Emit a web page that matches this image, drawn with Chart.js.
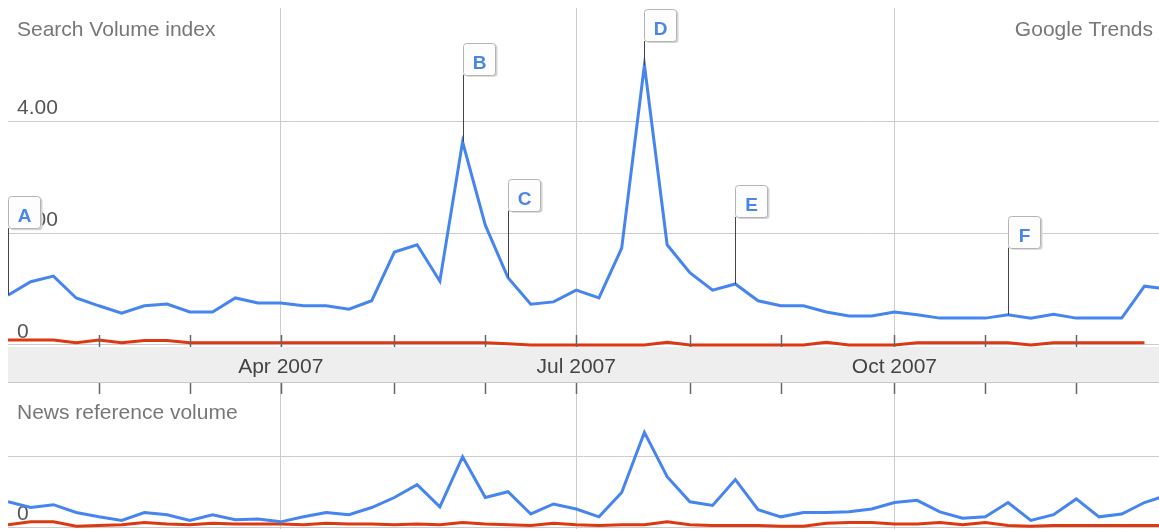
<!DOCTYPE html>
<html>
<head>
<meta charset="utf-8">
<script src="https://cdn.jsdelivr.net/npm/chart.js@4.4.1/dist/chart.umd.min.js"></script>
<style>
	html, body { margin: 0; padding: 0; background: #fff; overflow: hidden; }
	#wrap { position: relative; width: 1159px; height: 529px; }
	#top { position: absolute; left: 0; top: 0; width: 1159px; height: 383px; }
	#bottom { position: absolute; left: 0; top: 383px; width: 1159px; height: 146px; }
</style>
</head>
<body>
<div id="wrap">
	<div id="top"><canvas id="searchChart"></canvas></div>
	<div id="bottom"><canvas id="newsChart"></canvas></div>
</div>
<script>
// weekly points, 2007
const weeks = [
	"Jan 7 2007", "Jan 14 2007", "Jan 21 2007", "Jan 28 2007",
	"Feb 4 2007", "Feb 11 2007", "Feb 18 2007", "Feb 25 2007",
	"Mar 4 2007", "Mar 11 2007", "Mar 18 2007", "Mar 25 2007",
	"Apr 1 2007", "Apr 8 2007", "Apr 15 2007", "Apr 22 2007", "Apr 29 2007",
	"May 6 2007", "May 13 2007", "May 20 2007", "May 27 2007",
	"Jun 3 2007", "Jun 10 2007", "Jun 17 2007", "Jun 24 2007",
	"Jul 1 2007", "Jul 8 2007", "Jul 15 2007", "Jul 22 2007", "Jul 29 2007",
	"Aug 5 2007", "Aug 12 2007", "Aug 19 2007", "Aug 26 2007",
	"Sep 2 2007", "Sep 9 2007", "Sep 16 2007", "Sep 23 2007", "Sep 30 2007",
	"Oct 7 2007", "Oct 14 2007", "Oct 21 2007", "Oct 28 2007",
	"Nov 4 2007", "Nov 11 2007", "Nov 18 2007", "Nov 25 2007",
	"Dec 2 2007", "Dec 9 2007", "Dec 16 2007", "Dec 23 2007", "Dec 30 2007"
];

const searchBlue = [
	0.89, 1.13, 1.23, 0.84, 0.70, 0.57, 0.70, 0.73, 0.59, 0.59,
	0.84, 0.75, 0.75, 0.70, 0.70, 0.64, 0.79, 1.66, 1.79, 1.14,
	3.63, 2.14, 1.20, 0.73, 0.77, 0.98, 0.84, 1.73, 5.00, 1.79,
	1.29, 0.98, 1.09, 0.79, 0.70, 0.70, 0.59, 0.52, 0.52, 0.59,
	0.54, 0.48, 0.48, 0.48, 0.54, 0.48, 0.55, 0.48, 0.48, 0.48,
	1.05, 1.00
];
const searchRed = [
	0.09, 0.09, 0.09, 0.04, 0.09, 0.04, 0.08, 0.08, 0.04, 0.04,
	0.04, 0.04, 0.04, 0.04, 0.04, 0.04, 0.04, 0.04, 0.04, 0.04,
	0.04, 0.04, 0.02, 0, 0, 0, 0, 0, 0, 0.05,
	0, 0, 0, 0, 0, 0, 0.05, 0, 0, 0,
	0.04, 0.04, 0.04, 0.04, 0.04, 0, 0.04, 0.04, 0.04, 0.04,
	0.04
];
const newsBlue = [
	0.36, 0.28, 0.32, 0.21, 0.15, 0.10, 0.21, 0.18, 0.10, 0.18,
	0.11, 0.12, 0.08, 0.15, 0.21, 0.18, 0.28, 0.42, 0.60, 0.29,
	0.99, 0.42, 0.50, 0.19, 0.33, 0.26, 0.15, 0.49, 1.33, 0.71,
	0.36, 0.31, 0.67, 0.25, 0.15, 0.21, 0.21, 0.22, 0.26, 0.35,
	0.38, 0.22, 0.13, 0.15, 0.35, 0.10, 0.18, 0.40, 0.15, 0.19,
	0.35, 0.45
];
const newsRed = [
	0.04, 0.08, 0.08, 0.02, 0.03, 0.04, 0.07, 0.05, 0.04, 0.06,
	0.05, 0.05, 0.05, 0.04, 0.06, 0.05, 0.05, 0.04, 0.05, 0.04,
	0.07, 0.05, 0.04, 0.03, 0.06, 0.04, 0.03, 0.04, 0.04, 0.08,
	0.04, 0.03, 0.03, 0.03, 0.02, 0.02, 0.06, 0.07, 0.07, 0.05,
	0.05, 0.07, 0.04, 0.07, 0.03, 0.02, 0.03, 0.03, 0.03, 0.03,
	0.03, 0.03
];

const searchTicks = [0, 2, 4];
const newsTicks = [0, 1];
const quarterLabels = ["Apr 2007", "Jul 2007", "Oct 2007"];
const flagLetters = ["A", "B", "C", "D", "E", "F"];
const flagWeeks = [0, 20, 22, 28, 32, 44];

const BLUE = "#4684ee";
const RED = "#dc3912";
const GRID = "#cccccc";
const FONT = "'Liberation Sans', Arial, sans-serif";

Chart.defaults.font.family = FONT;

// first week of each month gets a tick
const monthStarts = weeks
	.map((w, i) => (i > 0 && w.split(" ")[0] !== weeks[i - 1].split(" ")[0] ? i : -1))
	.filter((i) => i >= 0);

function quarterLabel(i) {
	const w = weeks[i];
	if (!w) return "";
	const p = w.split(" ");
	const name = p[0] + " " + p[2];
	return quarterLabels.includes(name) ? name : "";
}

const toPoints = (arr) => arr.map((v, i) => ({ x: i, y: v }));

const xMax = 50.64;

function noPadding(s) {
	s.paddingTop = 0;
	s.paddingBottom = 0;
	s.paddingLeft = 0;
	s.paddingRight = 0;
}

function xScale(showLabels) {
	return {
		type: "linear",
		min: 0,
		max: xMax,
		afterBuildTicks: (s) => {
			s.ticks = monthStarts.map((v) => ({ value: v }));
		},
		afterFit: (s) => {
			s.height = showLabels ? 36 : 0;
			noPadding(s);
		},
		border: { display: false },
		grid: {
			drawTicks: false,
			lineWidth: 1,
			color: (ctx) => (ctx.tick && quarterLabel(ctx.tick.value) ? GRID : "rgba(0,0,0,0)"),
		},
		ticks: {
			display: showLabels,
			autoSkip: false,
			maxRotation: 0,
			padding: 8,
			color: "#444",
			font: { size: 21 },
			callback: (v) => quarterLabel(v),
		},
	};
}

function yScale(min, max, tickList, fmt) {
	return {
		min: min,
		max: max,
		afterBuildTicks: (s) => {
			s.ticks = tickList.map((v) => ({ value: v }));
		},
		afterFit: (s) => {
			s.width = 0;
			noPadding(s);
		},
		border: { display: false },
		grid: { drawTicks: false, color: GRID, lineWidth: 1 },
		ticks: {
			mirror: true,
			padding: 9,
			labelOffset: -13,
			color: "#555",
			font: { size: 21 },
			callback: fmt,
		},
	};
}

const titlePlugin = (left, right) => ({
	id: "titles",
	afterDraw(chart) {
		const ctx = chart.ctx;
		ctx.save();
		ctx.font = "21px " + FONT;
		ctx.fillStyle = "#777";
		ctx.textBaseline = "alphabetic";
		ctx.textAlign = "left";
		ctx.fillText(left, 17, 36);
		if (right) {
			ctx.textAlign = "right";
			ctx.fillText(right, 1153, 36);
		}
		ctx.restore();
	},
});

const bandPlugin = {
	id: "band",
	beforeDraw(chart) {
		const x = chart.scales.x;
		const ctx = chart.ctx;
		ctx.save();
		ctx.fillStyle = "#eeeeee";
		ctx.fillRect(x.left, x.top, x.right - x.left, x.bottom - x.top);
		ctx.strokeStyle = "#c8c8c8";
		ctx.lineWidth = 1;
		ctx.beginPath();
		ctx.moveTo(x.left, x.bottom - 0.5);
		ctx.lineTo(x.right, x.bottom - 0.5);
		ctx.stroke();
		ctx.restore();
	},
};

const monthTickPlugin = (atBottom, len) => ({
	id: "monthTicks",
	afterDatasetsDraw(chart) {
		const x = chart.scales.x;
		const area = chart.chartArea;
		const ctx = chart.ctx;
		ctx.save();
		ctx.strokeStyle = "#666";
		ctx.lineWidth = 1.5;
		monthStarts.forEach((i) => {
			const px = Math.round(x.getPixelForValue(i)) + 0.5;
			ctx.beginPath();
			if (atBottom) {
				ctx.moveTo(px, area.bottom);
				ctx.lineTo(px, area.bottom - len);
			} else {
				ctx.moveTo(px, area.top);
				ctx.lineTo(px, area.top + len);
			}
			ctx.stroke();
		});
		ctx.restore();
	},
});

const flagPlugin = {
	id: "flags",
	afterDatasetsDraw(chart) {
		const x = chart.scales.x;
		const y = chart.scales.y;
		const top = chart.chartArea.top;
		const ctx = chart.ctx;
		const size = 32;
		ctx.save();
		flagWeeks.forEach((w, k) => {
			const px = Math.round(x.getPixelForValue(w)) + 0.5;
			const py = y.getPixelForValue(searchBlue[w]);
			const boxBottom = Math.max(py - 67, top + 1 + size);
			const boxTop = boxBottom - size;
			// stem
			ctx.strokeStyle = "#444";
			ctx.lineWidth = 1;
			ctx.beginPath();
			ctx.moveTo(px, boxBottom);
			ctx.lineTo(px, py);
			ctx.stroke();
			// shadow
			ctx.fillStyle = "#d4d4d4";
			ctx.beginPath();
			ctx.roundRect(px + 2, boxTop + 2, size, size, 3);
			ctx.fill();
			// box
			ctx.fillStyle = "#fdfdfd";
			ctx.strokeStyle = "#b4b4b4";
			ctx.beginPath();
			ctx.roundRect(px, Math.round(boxTop) + 0.5, size, size, 3);
			ctx.fill();
			ctx.stroke();
			// letter
			ctx.fillStyle = "#4a86e8";
			ctx.font = "bold 19px " + FONT;
			ctx.textAlign = "center";
			ctx.textBaseline = "alphabetic";
			ctx.fillText(flagLetters[k], px + size / 2, boxTop + 26);
		});
		ctx.restore();
	},
};

new Chart(document.getElementById("searchChart"), {
	type: "line",
	data: {
		datasets: [
			{
				label: "Search volume",
				data: toPoints(searchBlue),
				borderColor: BLUE,
				borderWidth: 3,
				pointRadius: 0,
				tension: 0,
				fill: false,
			},
			{
				label: "Search volume (2)",
				data: toPoints(searchRed),
				borderColor: RED,
				borderWidth: 3,
				pointRadius: 0,
				tension: 0,
				fill: false,
			},
		],
	},
	options: {
		responsive: true,
		maintainAspectRatio: false,
		animation: false,
		layout: { padding: { left: 8, top: 8, right: 0, bottom: 0 } },
		plugins: { legend: { display: false }, tooltip: { enabled: false } },
		scales: {
			x: xScale(true),
			y: yScale(-0.036, 6.02, searchTicks, (v) => (v === 0 ? "0" : v.toFixed(2))),
		},
	},
	plugins: [bandPlugin, monthTickPlugin(true, 12), flagPlugin, titlePlugin("Search Volume index", "Google Trends")],
});

new Chart(document.getElementById("newsChart"), {
	type: "line",
	data: {
		datasets: [
			{
				label: "News reference volume",
				data: toPoints(newsBlue),
				borderColor: BLUE,
				borderWidth: 3,
				pointRadius: 0,
				tension: 0,
				fill: false,
			},
			{
				label: "News reference volume (2)",
				data: toPoints(newsRed),
				borderColor: RED,
				borderWidth: 3,
				pointRadius: 0,
				tension: 0,
				fill: false,
			},
		],
	},
	options: {
		responsive: true,
		maintainAspectRatio: false,
		animation: false,
		layout: { padding: { left: 8, top: 0, right: 0, bottom: 0 } },
		plugins: { legend: { display: false }, tooltip: { enabled: false } },
		scales: {
			x: xScale(false),
			y: yScale(-0.02, 2.02, newsTicks, (v) => (v === 0 ? "0" : "")),
		},
	},
	plugins: [monthTickPlugin(false, 11), titlePlugin("News reference volume")],
});
</script>
</body>
</html>
